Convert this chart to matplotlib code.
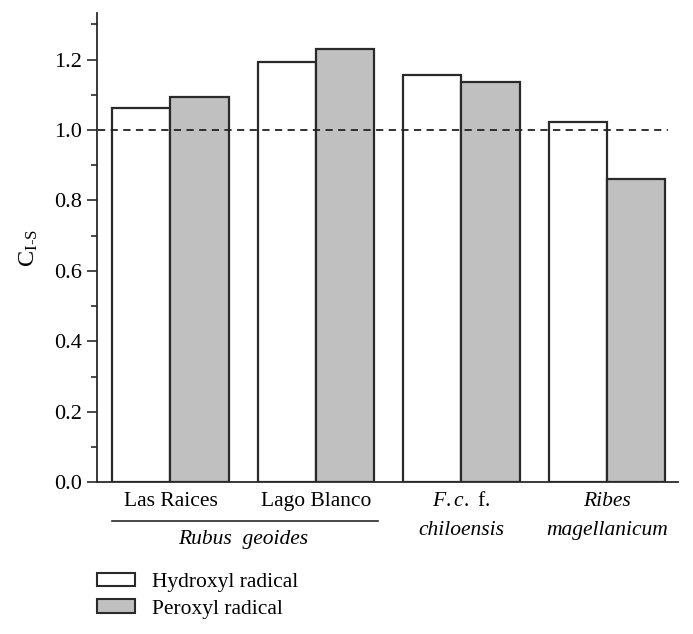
import numpy as np
import matplotlib
matplotlib.use("Agg")
import matplotlib.pyplot as plt
import matplotlib.patches as mpatches
from matplotlib.ticker import MultipleLocator

plt.rcParams['font.family'] = ['Liberation Serif', 'DejaVu Serif']
plt.rcParams['mathtext.fontset'] = 'custom'
plt.rcParams['mathtext.rm'] = 'Liberation Serif'
plt.rcParams['mathtext.it'] = 'Liberation Serif:italic'

# data
groups = ['Las Raices', 'Lago Blanco', 'F.c. f. chiloensis', 'Ribes magellanicum']
hydroxyl = [1.063, 1.192, 1.157, 1.023]
peroxyl = [1.093, 1.231, 1.137, 0.861]
series_labels = ['Hydroxyl radical', 'Peroxyl radical']

edge = '#2a2a2a'
gray = '#c0c0c0'
fs = 15.5

fig = plt.figure(figsize=(6.93, 6.34), dpi=100)
ax = fig.add_axes([0.1404, 0.2393, 0.838, 0.7402])

x = np.arange(len(groups))
w = 0.4
ax.bar(x - w / 2, hydroxyl, w, color='white', edgecolor=edge, linewidth=1.6)
ax.bar(x + w / 2, peroxyl, w, color=gray, edgecolor=edge, linewidth=1.6)

# reference line at 1
ax.plot([-0.5, 3.42], [1.0, 1.0], ls=(0, (4, 3)), color='#222222', lw=1.3, clip_on=False)

ax.set_xlim(-0.503, 3.49)
ax.set_ylim(0, 1.332)
ax.yaxis.set_major_locator(MultipleLocator(0.2))
ax.yaxis.set_minor_locator(MultipleLocator(0.1))
ax.yaxis.set_major_formatter(matplotlib.ticker.FormatStrFormatter('%.1f'))
ax.tick_params(axis='y', which='major', direction='out', length=7, width=1.2,
               labelsize=fs + 0.5, color=edge, pad=4)
ax.tick_params(axis='y', which='minor', direction='out', length=4, width=1.2, color=edge)
ax.set_xticks([])
for s in ['top', 'right']:
    ax.spines[s].set_visible(False)
for s in ['left', 'bottom']:
    ax.spines[s].set_linewidth(1.3)
    ax.spines[s].set_color(edge)

ax.set_ylabel(r'$\mathrm{C}_{\mathrm{I\text{-}S}}$', fontsize=fs + 2, labelpad=10)

# group labels below the axis
xc = ('data', 'axes fraction')
ax.annotate('Las Raices', (0, 0), xycoords=xc, xytext=(0, -14), textcoords='offset points',
            ha='center', va='center', fontsize=fs)
ax.annotate('Lago Blanco', (1, 0), xycoords=xc, xytext=(0, -14), textcoords='offset points',
            ha='center', va='center', fontsize=fs)
ax.annotate(r'$\mathit{F.c.}$ f.', (2, 0), xycoords=xc, xytext=(0, -14), textcoords='offset points',
            ha='center', va='center', fontsize=fs)
ax.annotate('chiloensis', (2, 0), xycoords=xc, xytext=(0, -34.5), textcoords='offset points',
            ha='center', va='center', fontsize=fs, style='italic')
ax.annotate('Ribes', (3, 0), xycoords=xc, xytext=(0, -14), textcoords='offset points',
            ha='center', va='center', fontsize=fs, style='italic')
ax.annotate('magellanicum', (3, 0), xycoords=xc, xytext=(0, -34.5), textcoords='offset points',
            ha='center', va='center', fontsize=fs, style='italic')
ax.annotate('Rubus  geoides', (0.5, 0), xycoords=xc, xytext=(0, -41.5), textcoords='offset points',
            ha='center', va='center', fontsize=fs, style='italic')

# bracket line under Rubus geoides
trans = ax.get_xaxis_transform()
ax.plot([-0.4, 1.43], [-0.0835, -0.0835], transform=trans, color=edge, lw=1.2, clip_on=False)

handles = [mpatches.Patch(facecolor='white', edgecolor=edge, linewidth=1.5),
           mpatches.Patch(facecolor=gray, edgecolor=edge, linewidth=1.5)]
fig.legend(handles, series_labels, loc='upper left', bbox_to_anchor=(0.14, 0.097),
           frameon=False, fontsize=fs, handlelength=1.75, handleheight=0.6,
           handletextpad=0.8, labelspacing=0.35, borderpad=0, borderaxespad=0)

fig.savefig('out.png', dpi=100)
